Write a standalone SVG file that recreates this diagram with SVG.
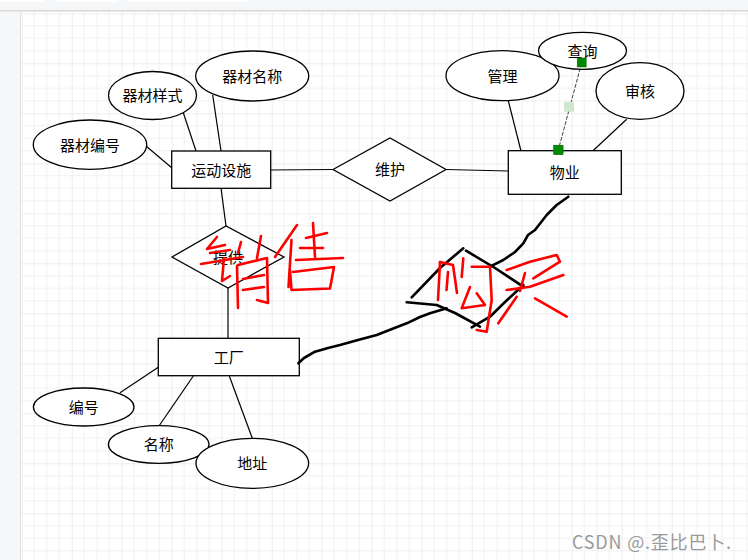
<svg xmlns="http://www.w3.org/2000/svg" width="748" height="560" viewBox="0 0 748 560">
<style>
.shape{fill:#fff;stroke:#000;stroke-width:1.3}
.edge{fill:none;stroke:#000;stroke-width:1.2}
.lbl{font-family:"Noto Sans CJK SC","Noto Sans",sans-serif;font-size:15px;fill:#000;text-anchor:middle;dominant-baseline:central}
.ink{fill:none;stroke-width:2.6;stroke-linecap:round;stroke-linejoin:round}
.red{stroke:#f00}
.blk{stroke:#000}
.handle{fill:#008a00;stroke:#006400;stroke-width:0.5}
</style>
<defs>
<pattern id="grid" patternUnits="userSpaceOnUse" x="21.7" y="13.3" width="50" height="50">
<rect width="50" height="50" fill="#fff"/>
<path d="M12.5 0V50M25 0V50M37.5 0V50M0 12.5H50M0 25H50M0 37.5H50" stroke="#f1f1f1" stroke-width="1"/>
<path d="M0 0V50M0 0H50" stroke="#dedede" stroke-width="1"/>
</pattern>
</defs>
<g id="background">
<rect x="0" y="0" width="748" height="560" fill="#f6f7f9"/>
<rect x="0" y="0" width="45" height="2" fill="#fff"/>
<rect x="55" y="0" width="63" height="2" fill="#fff"/>
<rect x="128" y="0" width="120" height="2" fill="#fff"/>
<rect x="0" y="10" width="748" height="1.5" fill="#d9d9d9"/>
<rect x="21" y="12" width="727" height="548" fill="url(#grid)"/>
<rect x="20" y="12" width="1" height="548" fill="#e2e2e2"/>
</g>
<g id="connectors">
<line class="edge" x1="146" y1="146" x2="172" y2="168"/>
<line class="edge" x1="183.3" y1="112.7" x2="196" y2="151"/>
<line class="edge" x1="212.7" y1="95" x2="221" y2="151"/>
<line class="edge" x1="271" y1="170" x2="333" y2="169.5"/>
<line class="edge" x1="446" y1="169.5" x2="508" y2="171"/>
<line class="edge" x1="508.3" y1="100.7" x2="521" y2="151"/>
<line x1="581.7" y1="62.7" x2="558.3" y2="150" stroke="#444" stroke-width="1" stroke-dasharray="4 1.5"/>
<line class="edge" x1="626.7" y1="119.3" x2="592.7" y2="151"/>
<line class="edge" x1="221" y1="188" x2="226" y2="226"/>
<line class="edge" x1="228" y1="288" x2="228" y2="338"/>
<line class="edge" x1="120" y1="392.7" x2="158.3" y2="367.3"/>
<line class="edge" x1="159.3" y1="425.5" x2="193.3" y2="376"/>
<line class="edge" x1="252.3" y1="438.3" x2="229.3" y2="376"/>
</g>
<g id="n-qicaibianhao"><ellipse class="shape" cx="90" cy="144.7" rx="56.7" ry="24.7"/><text class="lbl" x="90" y="144">器材编号</text></g>
<g id="n-qicaiyangshi"><ellipse class="shape" cx="152.5" cy="95.5" rx="44" ry="24"/><text class="lbl" x="152.5" y="94.8">器材样式</text></g>
<g id="n-qicaimingcheng"><ellipse class="shape" cx="252.2" cy="76" rx="56.5" ry="25"/><text class="lbl" x="252.2" y="75.3">器材名称</text></g>
<g id="n-yundongsheshi"><rect class="shape" x="171.7" y="151" width="99" height="37.3"/><text class="lbl" x="221.2" y="169">运动设施</text></g>
<g id="n-weihu"><polygon class="shape" points="333,169.5 390,138 446,169.5 390,201"/><text class="lbl" x="390" y="168.8">维护</text></g>
<g id="n-guanli"><ellipse class="shape" cx="502.5" cy="75.7" rx="56.5" ry="25"/><text class="lbl" x="502.5" y="75">管理</text></g>
<g id="n-chaxun"><ellipse class="shape" cx="582.5" cy="50.8" rx="44" ry="18.5"/><text class="lbl" x="582.5" y="50.1">查询</text></g>
<g id="n-shenhe"><ellipse class="shape" cx="640" cy="91" rx="44" ry="28.3"/><text class="lbl" x="640" y="90.3">审核</text></g>
<g id="n-wuye"><rect class="shape" x="508.3" y="150.7" width="113" height="43.6"/><text class="lbl" x="564.8" y="171.8">物业</text></g>
<g id="handles">
<rect class="handle" x="577.2" y="58" width="9" height="9"/>
<rect x="564" y="101.7" width="10" height="10" fill="#cfe6cf"/>
<rect class="handle" x="553.6" y="145.2" width="9.5" height="9.5"/>
</g>
<g id="n-tigong"><polygon class="shape" points="172,257 226,226 284,257 228,288"/><text class="lbl" x="228" y="256.3">提供</text></g>
<g id="n-gongchang"><rect class="shape" x="158.3" y="338.3" width="141" height="37.4"/><text class="lbl" x="228.8" y="356.3">工厂</text></g>
<g id="n-bianhao"><ellipse class="shape" cx="83.7" cy="407" rx="50.3" ry="19"/><text class="lbl" x="83.7" y="406.3">编号</text></g>
<g id="n-mingcheng"><ellipse class="shape" cx="158.7" cy="444.5" rx="50.3" ry="18.8"/><text class="lbl" x="158.7" y="443.8">名称</text></g>
<g id="n-dizhi"><ellipse class="shape" cx="252.3" cy="463.3" rx="56.3" ry="25"/><text class="lbl" x="252.3" y="462.6">地址</text></g>
<g id="annotations">
<polyline class="ink blk" points="298.3,363.3 304,358 315,351.7 328,348 340,345 358,340 376.7,335 392,329 406.7,323.3 420,317 430,313.3 446.7,308.3"/>
<polyline class="ink blk" points="411.7,297.3 440,268 463.3,248.3"/>
<polyline class="ink blk" points="466,250.7 495,268 523.3,286.7"/>
<polyline class="ink blk" points="406.7,302.3 436.7,305 455,313 480,326.7"/>
<polyline class="ink blk" points="471.7,327.3 490,316.7 505,302 523.3,285"/>
<polyline class="ink blk" points="490,266.7 503.3,260 515,252 523.3,243.3 528,235 535,230 546.7,215 556.7,205 568.3,196.7"/>
<polyline class="ink red" points="217,237 207,249 225,245"/>
<polyline class="ink red" points="210,253 230,250"/>
<polyline class="ink red" points="201,264 243,257"/>
<polyline class="ink red" points="224,258 222,281 230,276"/>
<polyline class="ink red" points="241,242 238,253"/>
<polyline class="ink red" points="261,236 257,258"/>
<polyline class="ink red" points="237,266 238,308"/>
<polyline class="ink red" points="238,265 267,258 268,303 257,300"/>
<polyline class="ink red" points="243,279 264,275"/>
<polyline class="ink red" points="243,290 264,287"/>
<polyline class="ink red" points="297,225 275,257"/>
<polyline class="ink red" points="291.5,240 288.5,287"/>
<polyline class="ink red" points="313,223 315,257"/>
<polyline class="ink red" points="306,238 327,233"/>
<polyline class="ink red" points="300,248 323,248"/>
<polyline class="ink red" points="296,260 343,258"/>
<polyline class="ink red" points="290,270 291.5,290 330,288.5 334,267 293,272"/>
<polyline class="ink red" points="440,262 438,300"/>
<polyline class="ink red" points="440,262 453,265 457,293"/>
<polyline class="ink red" points="448,272 446.5,290"/>
<polyline class="ink red" points="463.3,258.3 461.7,277"/>
<polyline class="ink red" points="471.7,266.7 490,266.7 491.7,300 486.7,331.7 476.7,330"/>
<polyline class="ink red" points="470,287 461.7,308.3 485,305 476.7,293.3"/>
<polyline class="ink red" points="506.7,270 530,261.7 556.7,255 560,261.7 533.3,278.3"/>
<polyline class="ink red" points="506.7,290 530,286.7 563.3,275"/>
<polyline class="ink red" points="525,273 520,291"/>
<polyline class="ink red" points="516.7,296.7 498.3,323.3"/>
<polyline class="ink red" points="535,298.3 566.7,316.7"/>
</g>
<g id="watermark"><text x="572" y="549" font-family="'Noto Sans CJK SC','Noto Sans',sans-serif" font-size="18" letter-spacing="0.8" fill="#9a9a9a">CSDN @.歪比巴卜.</text></g>
</svg>
